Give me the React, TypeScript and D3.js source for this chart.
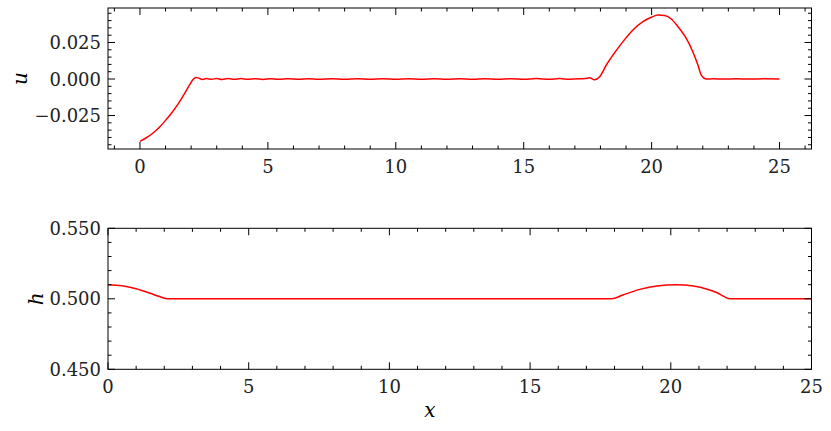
import React, { useEffect, useRef } from "react";
import * as d3 from "d3";

// top panel: velocity u(x)
const uX = [0, 0.25, 0.5, 0.75, 1.0, 1.25, 1.5, 1.75, 1.95, 2.08, 2.2, 2.3, 2.45, 2.6, 2.8, 3.0, 3.2, 3.45, 3.7, 3.95, 4.2, 4.5, 4.8, 5.1, 5.4, 5.8, 6.2, 6.6, 7.0, 7.5, 8.0, 8.5, 9.0, 9.5, 10.0, 10.5, 11.0, 11.5, 12.0, 12.5, 13.0, 13.5, 14.0, 14.5, 15.0, 15.5, 16.0, 16.4, 16.8, 17.19, 17.4, 17.58, 17.77, 17.97, 18.23, 18.49, 18.88, 19.27, 19.66, 19.99, 20.25, 20.51, 20.77, 21.03, 21.35, 21.61, 21.81, 21.94, 22.14, 22.4, 22.8, 23.3, 23.8, 24.4, 25.0];
const uVal = [-0.0427, -0.0402, -0.0371, -0.0332, -0.0283, -0.0229, -0.0169, -0.0097, -0.0037, -0.0002, 0.0011, 0.0006, -0.0003, 0.0003, -0.0002, 0.0004, -0.0003, 0.0003, -0.0002, 0.0003, -0.0002, 0.0002, -0.0003, 0.0002, -0.0002, 0.0002, -0.0002, 0.0002, -0.0001, 0.0002, -0.0002, 0.0001, -0.0002, 0.0002, -0.0001, 0.0002, -0.0002, 0.0001, -0.0002, 0.0002, -0.0001, 0.0002, -0.0002, 0.0002, -0.0002, 0.0003, -0.0002, 0.0003, -0.0002, 0.0001, 0.0004, 0.0008, -0.0005, 0.0016, 0.0096, 0.0164, 0.0256, 0.0336, 0.0393, 0.0423, 0.0438, 0.0434, 0.0411, 0.0358, 0.0279, 0.0187, 0.0096, 0.0027, 0.0, 0.0001, 0.0, 0.0001, 0.0, 0.0001, 0.0];

// bottom panel: depth h(x)
const hX = [0, 0.5, 1.0, 1.5, 1.8, 2.05, 2.15, 5, 10, 15, 17.9, 18.3, 18.9, 19.5, 20.2, 20.8, 21.3, 21.65, 21.9, 22.1, 25];
const hVal = [0.51, 0.5092, 0.5071, 0.5039, 0.5018, 0.5002, 0.5, 0.5, 0.5, 0.5, 0.5, 0.5027, 0.5067, 0.509, 0.51, 0.5091, 0.5068, 0.5043, 0.5015, 0.5, 0.5];

const xMajorTicks = [0, 5, 10, 15, 20, 25];
const uMajorTicks = [-0.025, 0, 0.025];
const hMajorTicks = [0.45, 0.5, 0.55];

const W = 831;
const H = 431;
const FONT = "DejaVu Serif";
const TICK_FS = 18;

const range = (a, b, step) => {
  const out = [];
  for (let v = a; v <= b + 1e-9; v += step) out.push(+v.toFixed(6));
  return out;
};

const App = () => {
  const svgRef = useRef(null);

  useEffect(() => {
    const svg = d3.select(svgRef.current);
    svg.selectAll("*").remove();

    const left = 108;
    const right = 811.5;

    const drawPanel = (opts) => {
      const { top, bottom, xDomain, yDomain, xs, ys, yMajor, yMinorStep, yFmt, yLabel, yLabelX } = opts;
      const x = d3.scaleLinear().domain(xDomain).range([left, right]);
      const y = d3.scaleLinear().domain(yDomain).range([bottom, top]);
      const g = svg.append("g");

      // line
      const pts = xs.map((v, i) => [v, ys[i]]);
      const line = d3.line()
        .x((d) => x(d[0]))
        .y((d) => y(d[1]))
        .curve(d3.curveMonotoneX);
      g.append("path")
        .datum(pts)
        .attr("d", line)
        .attr("fill", "none")
        .attr("stroke", "#ff0000")
        .attr("stroke-width", 1.5)
        .attr("stroke-linejoin", "round");

      // ticks (inward, all four sides)
      const xMinor = range(Math.ceil(xDomain[0]), Math.floor(xDomain[1]), 1).filter((v) => !xMajorTicks.includes(v));
      const yMinor = range(Math.ceil(yDomain[0] / yMinorStep - 1e-6) * yMinorStep, yDomain[1], yMinorStep)
        .filter((v) => !yMajor.some((m) => Math.abs(m - v) < 1e-9) && v <= yDomain[1] + 1e-9);

      const tickG = g.append("g").attr("stroke", "#000").attr("stroke-width", 1);
      const addX = (vals, len) => {
        vals.forEach((v) => {
          const px = x(v);
          tickG.append("line").attr("x1", px).attr("x2", px).attr("y1", bottom).attr("y2", bottom - len);
          tickG.append("line").attr("x1", px).attr("x2", px).attr("y1", top).attr("y2", top + len);
        });
      };
      const addY = (vals, len) => {
        vals.forEach((v) => {
          const py = y(v);
          tickG.append("line").attr("x1", left).attr("x2", left + len).attr("y1", py).attr("y2", py);
          tickG.append("line").attr("x1", right).attr("x2", right - len).attr("y1", py).attr("y2", py);
        });
      };
      addX(xMajorTicks, 7);
      addX(xMinor, 3.5);
      addY(yMajor, 7);
      addY(yMinor, 3.5);

      // frame
      g.append("rect")
        .attr("x", left)
        .attr("y", top)
        .attr("width", right - left)
        .attr("height", bottom - top)
        .attr("fill", "none")
        .attr("stroke", "#000")
        .attr("stroke-width", 1);

      // tick labels
      xMajorTicks.forEach((v) => {
        g.append("text")
          .attr("x", x(v))
          .attr("y", bottom + 17)
          .attr("text-anchor", "middle")
          .attr("dominant-baseline", "central")
          .attr("font-family", FONT)
          .attr("font-size", TICK_FS)
          .attr("fill", "#222")
          .text(String(v));
      });
      yMajor.forEach((v) => {
        g.append("text")
          .attr("x", left - 7)
          .attr("y", y(v))
          .attr("text-anchor", "end")
          .attr("dominant-baseline", "central")
          .attr("font-family", FONT)
          .attr("font-size", TICK_FS)
          .attr("fill", "#222")
          .text(yFmt(v));
      });

      // y label
      const cy = (top + bottom) / 2;
      g.append("text")
        .attr("transform", `translate(${yLabelX},${cy}) rotate(-90)`)
        .attr("text-anchor", "middle")
        .attr("dominant-baseline", "central")
        .attr("font-family", FONT)
        .attr("font-style", "italic")
        .attr("font-size", 20)
        .text(yLabel);
    };

    const fmt3 = (v) => {
      const s = Math.abs(v).toFixed(3);
      return v < 0 ? "\u2212" + s : s;
    };

    drawPanel({
      top: 8,
      bottom: 149,
      xDomain: [-1.25, 26.25],
      yDomain: [-0.0479, 0.0486],
      xs: uX,
      ys: uVal,
      yMajor: uMajorTicks,
      yMinorStep: 0.005,
      yFmt: fmt3,
      yLabel: "u",
      yLabelX: 20,
    });

    drawPanel({
      top: 228.3,
      bottom: 369.3,
      xDomain: [0, 25],
      yDomain: [0.45, 0.55],
      xs: hX,
      ys: hVal,
      yMajor: hMajorTicks,
      yMinorStep: 0.01,
      yFmt: fmt3,
      yLabel: "h",
      yLabelX: 36,
    });

    svg.append("text")
      .attr("x", 430)
      .attr("y", 410)
      .attr("text-anchor", "middle")
      .attr("dominant-baseline", "central")
      .attr("font-family", FONT)
      .attr("font-style", "italic")
      .attr("font-size", 20)
      .text("x");
  }, []);

  return (
    <svg
      ref={svgRef}
      width={W}
      height={H}
      style={{ position: "absolute", left: 0, top: 0, background: "#fff" }}
    ></svg>
  );
};

export default App;
